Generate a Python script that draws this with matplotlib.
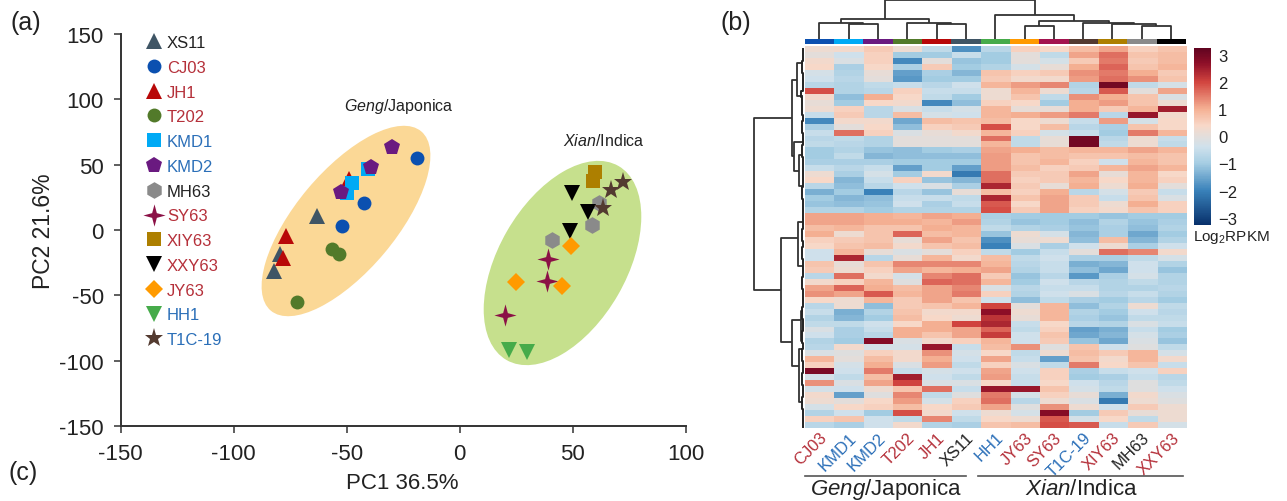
import numpy as np
import matplotlib
matplotlib.use('Agg')
import matplotlib.pyplot as plt
from matplotlib.colors import LinearSegmentedColormap
from matplotlib.patches import Ellipse
from matplotlib.path import Path
from matplotlib.transforms import Affine2D

plt.rcParams['font.family'] = ['Liberation Sans', 'DejaVu Sans']
plt.rcParams['axes.unicode_minus'] = False
plt.rcParams['mathtext.fontset'] = 'custom'
plt.rcParams['mathtext.rm'] = 'Liberation Sans'
plt.rcParams['mathtext.it'] = 'Liberation Sans:italic'

RED = '#b5303a'
BLUE = '#2b6fb8'
BLACK = '#222222'

# PCA
star4 = Path.unit_regular_star(4, innerCircle=0.3)
names = ['XS11', 'CJ03', 'JH1', 'T202', 'KMD1', 'KMD2', 'MH63', 'SY63', 'XIY63', 'XXY63', 'JY63', 'HH1', 'T1C-19']
name_colors = [BLACK, RED, RED, RED, BLUE, BLUE, BLACK, RED, RED, RED, RED, BLUE, BLUE]
colors = ['#3f5565', '#0b50b0', '#b80808', '#527a2a', '#00aaf5', '#6a1a80', '#8a8a8a',
          '#8b1146', '#ad7f00', '#000000', '#ff9a00', '#46ab4a', '#533a30']
markers = ['^', 'o', '^', 'o', 's', 'p', 'h', star4, 's', 'v', 'D', 'v', '*']
sizes = [11, 10, 11, 10, 10, 12, 12, 16, 10, 11, 9, 11, 14]
pc1 = [[-63.3, -79.5, -82.1], [-19, -42.2, -52.2], [-77, -78, -49], [-56.6, -53.4, -72],
       [-47.7, -50, -40.5], [-30, -39.3, -52.4], [40.9, 58.3, 61.5], [39, 38.7, 20],
       [59.8, 59], [49.7, 56.8, 48.7], [49.3, 24.7, 45], [21.9, 29.8], [72.3, 66.8, 63.4]]
pc2 = [[10.5, -18.3, -31], [55, 20.7, 3.3], [-4.3, -21.6, 39], [-14.5, -18.3, -55.3],
       [36, 28, 46.7], [63.8, 48.5, 29], [-7.4, 3.9, 20.7], [-22, -39, -65],
       [44.7, 37.3], [28.3, 14, -0.5], [-12, -39.5, -42.6], [-91.5, -93.5], [36.5, 30.6, 17]]
pca_ticks = [-150, -100, -50, 0, 50, 100, 150]

# Heatmap
heat_cols = ['CJ03', 'KMD1', 'KMD2', 'T202', 'JH1', 'XS11', 'HH1', 'JY63', 'SY63', 'T1C-19', 'XIY63', 'MH63', 'XXY63']
heat_col_colors = [RED, BLUE, BLUE, RED, RED, BLACK, BLUE, RED, RED, BLUE, RED, BLACK, RED]
bar_colors = ['#0b50b0', '#00aaf5', '#6a1a80', '#527a2a', '#b80808', '#3f5565', '#46ab4a',
              '#ff9a00', '#a3134f', '#533a30', '#ad7f00', '#8a8a8a', '#000000']
heat = [
    [.2, .3, .6, .2, -.6, -1.8, -.7, .5, .4, .8, 1.1, .5, .7],
    [0, -.4, .5, -1.0, -1.0, -.5, -1.0, 0, -.6, 1.1, 1.6, .7, .8],
    [.3, -.2, .5, -1.9, 0, -1.1, -1.0, 0, -.3, .6, 1.5, .6, .8],
    [.4, -.9, .4, -.9, .6, -1.0, -.8, -.3, .1, 1.0, 1.7, .7, .9],
    [-.3, -.8, .1, -1.6, -.9, -1.3, .7, .5, .6, 1.3, 1.5, 1.0, .6],
    [-.4, -.7, 0, -1.7, -1.0, -1.0, .6, .3, .3, 1.2, 1.6, 1.3, .7],
    [-.7, -.8, -.6, -.5, -.7, -.4, .9, 1.2, 1.4, -.8, 3.0, -.6, -.3],
    [1.9, -.8, -.7, .5, -.5, -.5, .2, .9, .2, -.7, 1.8, 0, 1.1],
    [.3, -1.2, 1.0, .4, -.6, -1.0, .2, .7, -.6, 1.3, 1.0, .7, -.2],
    [.1, -1.0, .4, .3, -1.9, -1.2, .5, .4, -1.0, 1.0, 1.2, .7, .2],
    [.2, .5, -.7, -.2, -.5, -.3, .9, .1, .1, 1.0, .6, .9, 2.5],
    [-.5, .6, -.7, .8, -.3, -.4, .9, 1.0, 1.2, 1.5, -.7, 2.6, .3],
    [-1.9, .3, .3, -1.5, .8, .7, .8, .4, .2, -.5, 1.2, -.3, .4],
    [-.9, 0, .4, -1.2, .5, .6, 1.9, .4, .8, -.7, -.9, .7, .4],
    [-.5, 1.6, .5, -.2, .1, .3, .9, .5, -.3, -.5, -1.0, 1.5, .9],
    [-.7, -.6, -.8, 0, 0, 0, 1.6, -.6, .1, 3.0, -.7, .2, -.5],
    [-.6, -.7, -.8, 0, 0, 0, .9, -.6, .1, 3.0, -.6, .2, -.6],
    [-1.0, -.8, -1.1, -1.2, -1.0, -.9, 1.1, 1.0, .8, .9, .9, 1.1, .9],
    [-1.0, -.6, -1.3, -1.2, -1.2, -1.2, 1.2, .7, .8, .7, .7, .8, .7],
    [-.9, -.9, -.9, -1.0, -1.0, -1.0, 1.2, .7, .9, .5, -.4, .9, .7],
    [-.5, -.7, -.5, -1.6, -1.0, -1.6, 1.2, .8, .5, .6, .9, 1.1, .9],
    [.2, -.9, -.3, -1.0, .3, -2.1, 1.6, .6, .6, 1.1, .1, .9, .4],
    [.4, -1.3, -.5, .5, -1.1, -1.3, 1.6, .5, .6, .9, .4, .9, .5],
    [-.7, -1.2, -.7, -.4, -.2, -.9, 2.4, .6, .1, 1.0, .2, 1.0, 0],
    [-1.4, -1.0, -2.0, -.7, -1.1, .1, .8, .5, 1.0, -.7, -.3, .6, -.5],
    [-1.0, -1.3, -1.2, -.5, -.5, -.6, 2.4, .7, 1.1, .6, -.5, .7, -.2],
    [-1.1, -1.2, -1.1, -.4, -.9, -.5, 1.8, .4, 1.1, .6, .2, 1.0, .5],
    [-.8, -.8, -1.0, -.8, -.8, -.8, 1.9, .6, 1.1, .5, .3, .7, .5],
    [1.1, 1.1, 1.0, .9, 1.1, 1.0, -.9, -1.0, -1.0, -1.0, -1.1, -1.0, -1.0],
    [1.1, 1.1, 1.0, 1.0, .9, 1.2, -.8, -1.1, -1.0, -1.2, -.8, -1.1, -.9],
    [.8, .9, .7, .7, 1.0, .9, -.6, -.8, -.9, -1.1, -.9, -1.2, -.8],
    [1.0, .2, .7, 1.7, .8, .9, -1.1, .2, -.3, -1.3, -.9, -1.5, -1.0],
    [.5, .6, .7, .1, 1.1, .7, -1.8, .1, .2, -1.2, .8, -1.3, -.8],
    [.4, .7, .8, .3, .7, .8, -2.0, -.2, -.9, -.4, .2, -.9, -.4],
    [-.4, .9, .1, -.2, 0, .5, -.6, -1.0, -.5, 0, 1.6, 1.4, .3],
    [-.4, 2.4, -.7, .1, .9, .3, .8, -.6, -.4, -.9, -.9, -.6, -.3],
    [.7, .1, .7, 1.4, 1.4, 1.4, .9, -.7, -.5, -1.4, -1.3, -.4, -.8],
    [.6, .2, .5, 1.1, .9, 1.0, 1.1, -.8, -.5, -1.2, -1.5, -.4, -1.1],
    [-.7, 1.6, .3, -.3, 1.4, 1.6, .6, -1.1, -.7, -1.7, -.9, -.3, -.8],
    [.3, .5, .9, -.1, 1.7, 1.6, .9, -1.0, -.4, -.7, -.8, -.6, -.8],
    [1.1, 1.7, 1.0, .8, 1.1, 1.4, -.2, -.7, -.5, -.5, -.8, -.8, -.7],
    [1.3, 1.1, 1.8, .9, 1.1, 1.5, .5, -.8, -.4, -.2, -.7, -.5, -.8],
    [.4, .2, .9, .6, 1.1, .7, -.4, -1.2, -.6, -.9, -1.0, -.7, -1.0],
    [-.7, .2, -1.2, .6, .7, .9, 2.0, 0, .9, -1.2, -.8, .2, -.6],
    [-.5, -1.4, -.8, .7, .3, .3, 2.7, .2, .9, -.8, -1.0, -.4, -.7],
    [-.8, -1.3, -1.0, .8, .4, .2, 2.2, .1, .9, -.9, -1.1, -.6, -.6],
    [-.6, -.6, -.4, .4, 1.0, 2.0, 2.4, -.5, .4, -.7, -.8, -.2, -.5],
    [-.2, -.9, -.5, 1.0, 1.0, 1.1, 1.7, -.6, .5, -1.6, -1.4, -.5, -1.0],
    [-.4, -.9, -.7, 1.0, .7, 1.1, 2.1, -.4, .7, -1.5, -1.3, -.3, -.9],
    [-.8, -1.0, 2.8, -.2, .3, .5, .9, -.4, .6, -1.1, -1.5, -.2, -1.1],
    [-.7, .3, -.3, -.3, 2.6, -.5, .8, 1.3, -.1, .7, -.4, -.1, -.6],
    [-.2, -.1, .5, .3, 1.3, -.3, .4, -.6, .2, .8, .6, .9, -.3],
    [.9, 0, .8, .3, 1.0, -.4, 1.1, -.5, -1.6, .7, .3, .9, .3],
    [.5, -.3, 1.0, -.2, 1.2, -.6, .5, -.2, -.6, 1.5, .4, .7, -.5],
    [2.9, -.4, 1.5, -.5, -.3, -.4, 1.1, -.4, .5, -.9, -.5, -.4, .5],
    [-.3, -.6, .8, 2.5, -.4, -.6, 1.2, -.5, .5, -1.0, -.9, -.5, -.7],
    [1.3, -.2, 1.1, 2.0, -.2, -.2, .4, -.5, .4, -.4, -.7, -.1, -.6],
    [-.3, -.4, .2, .7, 1.6, -.5, 2.6, 2.6, .7, -.3, -.6, -.1, -.4],
    [.3, -1.6, -.1, 1.4, -.6, -.1, 1.5, -.3, .5, .1, -1.4, .3, -.2],
    [.2, 0, .4, 1.2, -.3, .5, 1.6, -.7, .2, -.2, -2.1, .2, -.1],
    [-.3, .4, .5, .8, .4, .6, 1.1, -.1, 1.3, .2, -.4, .6, .2],
    [-.8, -.4, -1.0, 1.9, .3, -.4, .2, -.3, 2.8, -1.0, .6, .1, .2],
    [.5, .7, -.4, -.6, 1.4, -.6, .4, .2, 1.8, -.3, .4, -.6, .2],
    [-.7, -.9, -.4, .3, -.8, -.9, .7, .8, 1.9, 1.8, -.5, .6, -.3],
]
cbar_ticks = [-3, -2, -1, 0, 1, 2, 3]
cbar_labels = ['\u22123', '\u22122', '\u22121', '0', '1', '2', '3']
# colours of the bar at its value, from -3.27 to 3.27
cmap_stops = [(-3.27, '#08306b'), (-2, '#3a82ba'), (-1, '#a5cde3'), (-.4, '#cfe1ec'), (0, '#e3dedb'),
              (.4, '#f8d8c8'), (1, '#f5b194'), (2, '#d2453f'), (2.7, '#8e0f28'), (3.27, '#5f0420')]

# dendrograms, read in pixels of the picture
col_tree = (0.8,
            (20, (24, 0, (25, 1, 2)), (23.7, 3, (25.3, 4, 5))),
            (16, 6, (21.7, (26.7, 7, 8), (24, 9, (24.7, 10, (26.7, 11, 12))))))
row_tree = [(754, 119, 291, 791.7, 781), (791.7, 80.7, 157, 797.3, 794.3),
            (797.3, 64, 96.7, 803, 803), (794.3, 142.7, 171.7, 803, 799),
            (799, 156, 187, 803, 803), (781, 239, 343, 798.3, 792.3),
            (798.3, 223, 267, 803, 803), (792.3, 320.7, 366.7, 801, 799),
            (801, 311.7, 341.7, 803, 803), (799, 350, 403, 803, 803)]
edge_x = [803, 802, 803, 801, 803, 802, 803, 802, 800, 803, 801, 803, 802, 801, 803, 802, 803, 801,
          802, 803, 803, 803, 802, 803, 801, 803, 802, 803, 803, 802, 803, 801, 803, 802, 801, 803,
          802, 803, 803, 801, 803, 802, 803, 802, 801, 803, 802, 803, 801, 802, 803, 801, 802, 803,
          802, 801, 803, 802, 803, 801, 802, 803, 802, 803]

fig = plt.figure(figsize=(12.87, 5.02), dpi=100)
W, H = 1287., 502.
px = Affine2D().scale(1, -1).translate(0, H)


def box(x0, y0, x1, y1):
    return [x0 / W, 1 - y1 / H, (x1 - x0) / W, (y1 - y0) / H]


ax = fig.add_axes(box(120.5, 35, 686, 427))
ax.patch.set_visible(False)
ax.add_patch(Ellipse((346, 222), 234, 100, angle=-50, color='#fbd896', lw=0, transform=px, clip_on=False))
ax.add_patch(Ellipse((562.5, 264), 224, 128, angle=-60, color='#c6e08d', lw=0, transform=px, clip_on=False))
for i in range(len(names)):
    ax.plot(pc1[i], pc2[i], ls='none', marker=markers[i], ms=sizes[i], color=colors[i], mew=0,
            label=names[i], clip_on=False)
ax.set_xlim(-150, 100)
ax.set_ylim(-150, 150)
ax.set_xticks(pca_ticks[:-1])
ax.set_yticks(pca_ticks)
ax.tick_params(labelsize=16, length=5, width=1.1, color='#333333', labelcolor=BLACK, pad=7)
for s in ['top', 'right']:
    ax.spines[s].set_visible(False)
for s in ['left', 'bottom']:
    ax.spines[s].set_linewidth(1.4)
    ax.spines[s].set_color('#333333')
ax.legend(loc='upper left', frameon=False, fontsize=12, numpoints=1,
          labelspacing=0.586, handlelength=1.0, handletextpad=0.28, labelcolor=name_colors,
          borderaxespad=0, borderpad=0.0)
leg = ax.get_legend()
leg.set_bbox_to_anchor((145.7 / W, 1 - 36 / H), transform=fig.transFigure)

# heatmap
rdbu = LinearSegmentedColormap.from_list(
    'rdbu', [((v + 3.27) / 6.54, c) for v, c in cmap_stops])
hax = fig.add_axes(box(804.7, 47, 1186, 429))
im = hax.imshow(np.array(heat), aspect='auto', cmap=rdbu, vmin=-3.27, vmax=3.27, interpolation='nearest')
hax.set_yticks([])
hax.set_xticks(range(len(heat_cols)))
hax.set_xticklabels(heat_cols, rotation=45, ha='right', rotation_mode='anchor', fontsize=12)
for lab, c in zip(hax.get_xticklabels(), heat_col_colors):
    lab.set_color(c)
hax.tick_params(axis='x', length=0, pad=1)
for s in hax.spines.values():
    s.set_visible(False)

bax = fig.add_axes(box(804.7, 40, 1186, 45.3))
bax.bar(range(13), 1, width=1, color=bar_colors)
bax.set_xlim(-.5, 12.5)
bax.set_ylim(0, 1)
bax.axis('off')

cax = fig.add_axes(box(1194, 48.5, 1211, 226))
cb = fig.colorbar(im, cax=cax, ticks=cbar_ticks)
cb.ax.set_yticklabels(cbar_labels)
cb.ax.tick_params(length=0, labelsize=12, pad=5, labelcolor=BLACK)
cb.outline.set_visible(False)

# pixel overlay for the trees and the free text
ov = fig.add_axes([0, 0, 1, 1])
ov.set_xlim(0, W)
ov.set_ylim(H, 0)
ov.axis('off')
ov.patch.set_visible(False)
LINE = dict(color='#333333', lw=1.3, solid_capstyle='butt')


def draw_col(node):
    # returns x and y of the top of a node
    if isinstance(node, int):
        return 819.4 + 29.3 * node, 40
    xa, ya = draw_col(node[1])
    xb, yb = draw_col(node[2])
    ov.plot([xa, xa, xb, xb], [ya, node[0], node[0], yb], **LINE)
    return (xa + xb) / 2, node[0]


draw_col(col_tree)
for x, y0, y1, x0, x1 in row_tree:
    ov.plot([x0, x, x, x1], [y0, y0, y1, y1], **LINE)
edge_y = [47 + 6 * (i + .5) for i in range(len(edge_x))]
ov.step(edge_x, edge_y, where='mid', color='#222222', lw=1.4)

ov.plot([805, 966], [476.7, 476.7], color='#555555', lw=1.2)
ov.plot([977.7, 1183], [476.7, 476.7], color='#555555', lw=1.2)
ov.text(886, 490, r'$\mathit{Geng}$/Japonica', fontsize=16, ha='center', va='center', color=BLACK)
ov.text(1081, 490, r'$\mathit{Xian}$/Indica', fontsize=16, ha='center', va='center', color=BLACK)
ov.text(399, 106, r'$\mathit{Geng}$/Japonica', fontsize=11.5, ha='center', va='center', color=BLACK)
ov.text(604, 141, r'$\mathit{Xian}$/Indica', fontsize=11.5, ha='center', va='center', color=BLACK)
ov.text(1193, 238, r'Log$_2$RPKM', fontsize=11, ha='left', va='center', color=BLACK)
ov.text(402, 484, 'PC1 36.5%', fontsize=16, ha='center', va='center', color=BLACK)
ov.text(44, 231, 'PC2 21.6%', fontsize=16.5, ha='center', va='center', rotation=90, color=BLACK)
ov.text(10, 23, '(a)', fontsize=18, ha='left', va='center', color=BLACK)
ov.text(721, 23, '(b)', fontsize=18, ha='left', va='center', color=BLACK)
ov.text(8, 473, '(c)', fontsize=18, ha='left', va='center', color=BLACK)

fig.savefig('out.png', dpi=100)
